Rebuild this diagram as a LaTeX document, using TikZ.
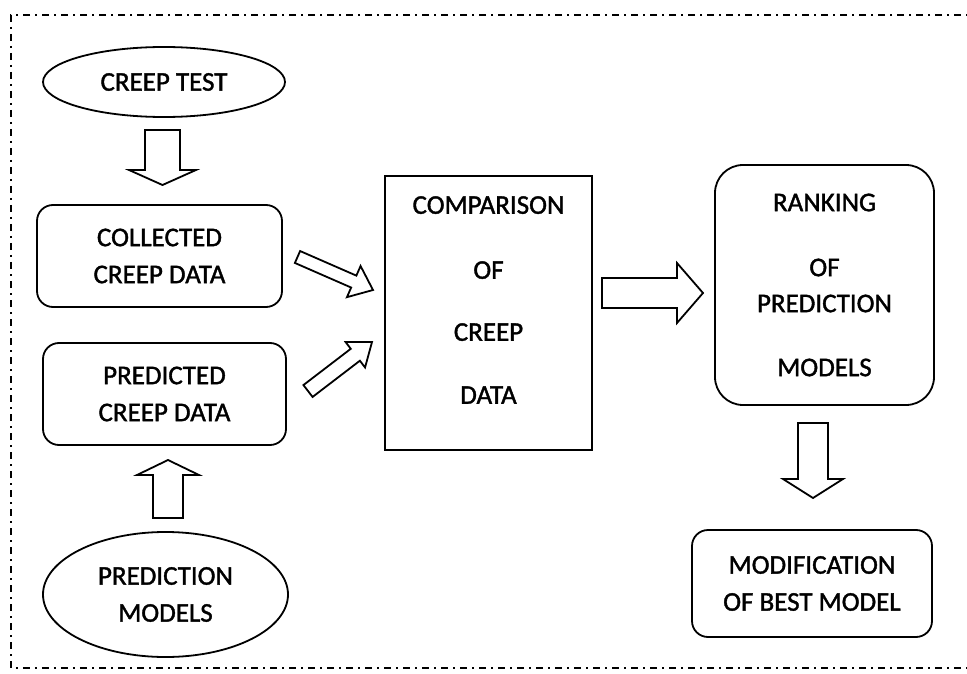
\documentclass[tikz,border=0pt]{standalone}
\usepackage{fontspec}
\setmainfont[FakeBold=1.4,AutoFakeBold=1.4]{Carlito}
\newfontfamily\heavy[FakeBold=1.4]{Carlito}
\usetikzlibrary{shapes.geometric,calc}
\tikzset{
  every node/.style={font=\heavy\fontsize{27}{37}\selectfont, align=center, inner sep=0pt},
  oval/.style={draw, ellipse, line width=1.8pt},
  rbox/.style={draw, rounded corners=16pt, line width=1.8pt},
  sbox/.style={draw, line width=1.8pt},
  blk/.style={draw, line width=1.8pt, line join=miter},
  frame/.style={line width=1.9pt, dash pattern=on 7pt off 5pt on 2pt off 5pt},
}
% #1 name, #2 tail coordinate, #3 tip coordinate, #4 shaft half width, #5 head half width, #6 head length
\newcommand\blkarrow[6]{%
  \coordinate (#1-b) at ($(#3)!#6!(#2)$);
  \draw[blk] ($(#2)!#4!90:(#3)$) -- ($(#1-b)!#4!90:(#3)$) -- ($(#1-b)!#5!90:(#3)$) -- (#3)
    -- ($(#1-b)!#5!-90:(#3)$) -- ($(#1-b)!#4!-90:(#3)$) -- ($(#2)!#4!-90:(#3)$) -- cycle;
}
\begin{document}
\begin{tikzpicture}[x=1pt,y=-1pt]
\useasboundingbox (0,0) rectangle (967,674);
\clip (0,0) rectangle (967,674);
\draw[frame] (980,15) -- (11,15) -- (11,668) -- (980,668);

\node[oval, minimum width=242pt, minimum height=70pt] (ct) at (164,82) {CREEP TEST};
\node[rbox, minimum width=245pt, minimum height=102pt] (cd) at (159.5,256) {COLLECTED\\CREEP DATA};
\node[rbox, minimum width=243pt, minimum height=102pt] (pd) at (164.5,394) {PREDICTED\\CREEP DATA};
\node[oval, minimum width=245pt, minimum height=125pt] (pm) at (165.5,594.5) {PREDICTION\\MODELS};
\node[sbox, minimum width=207pt, minimum height=274pt] (cmp) at (488.5,313) {};
\node (cmpt) at (488.5,300) {COMPARISON\\[28pt]OF\\[25pt]CREEP\\[26pt]DATA};
\node[rbox, rounded corners=28pt, minimum width=219pt, minimum height=240pt] (rk) at (824.5,285)
  {RANKING\\[28pt]OF\\[-1pt]PREDICTION\\[27pt]MODELS};
\node[rbox, minimum width=240pt, minimum height=107pt] (mod) at (812,583.5) {MODIFICATION\\OF BEST MODEL};

\coordinate (a1s) at (162.5,130); \coordinate (a1e) at (162.5,185);
\coordinate (a2s) at (168,518);   \coordinate (a2e) at (168,460);
\coordinate (a3s) at (297.5,257); \coordinate (a3e) at (373,290);
\coordinate (a4s) at (308,391);   \coordinate (a4e) at (372,342);
\coordinate (a5s) at (602,293);   \coordinate (a5e) at (703,293);
\coordinate (a6s) at (813,423);   \coordinate (a6e) at (813,498);

\blkarrow{a1}{a1s}{a1e}{17.5pt}{33.5pt}{15pt}
\blkarrow{a2}{a2s}{a2e}{15pt}{31pt}{15pt}
\blkarrow{a3}{a3s}{a3e}{6.5pt}{17pt}{21pt}
\blkarrow{a4}{a4s}{a4e}{7.5pt}{16pt}{21pt}
\blkarrow{a5}{a5s}{a5e}{15pt}{30pt}{26pt}
\blkarrow{a6}{a6s}{a6e}{15pt}{30pt}{19pt}
\end{tikzpicture}
\end{document}
